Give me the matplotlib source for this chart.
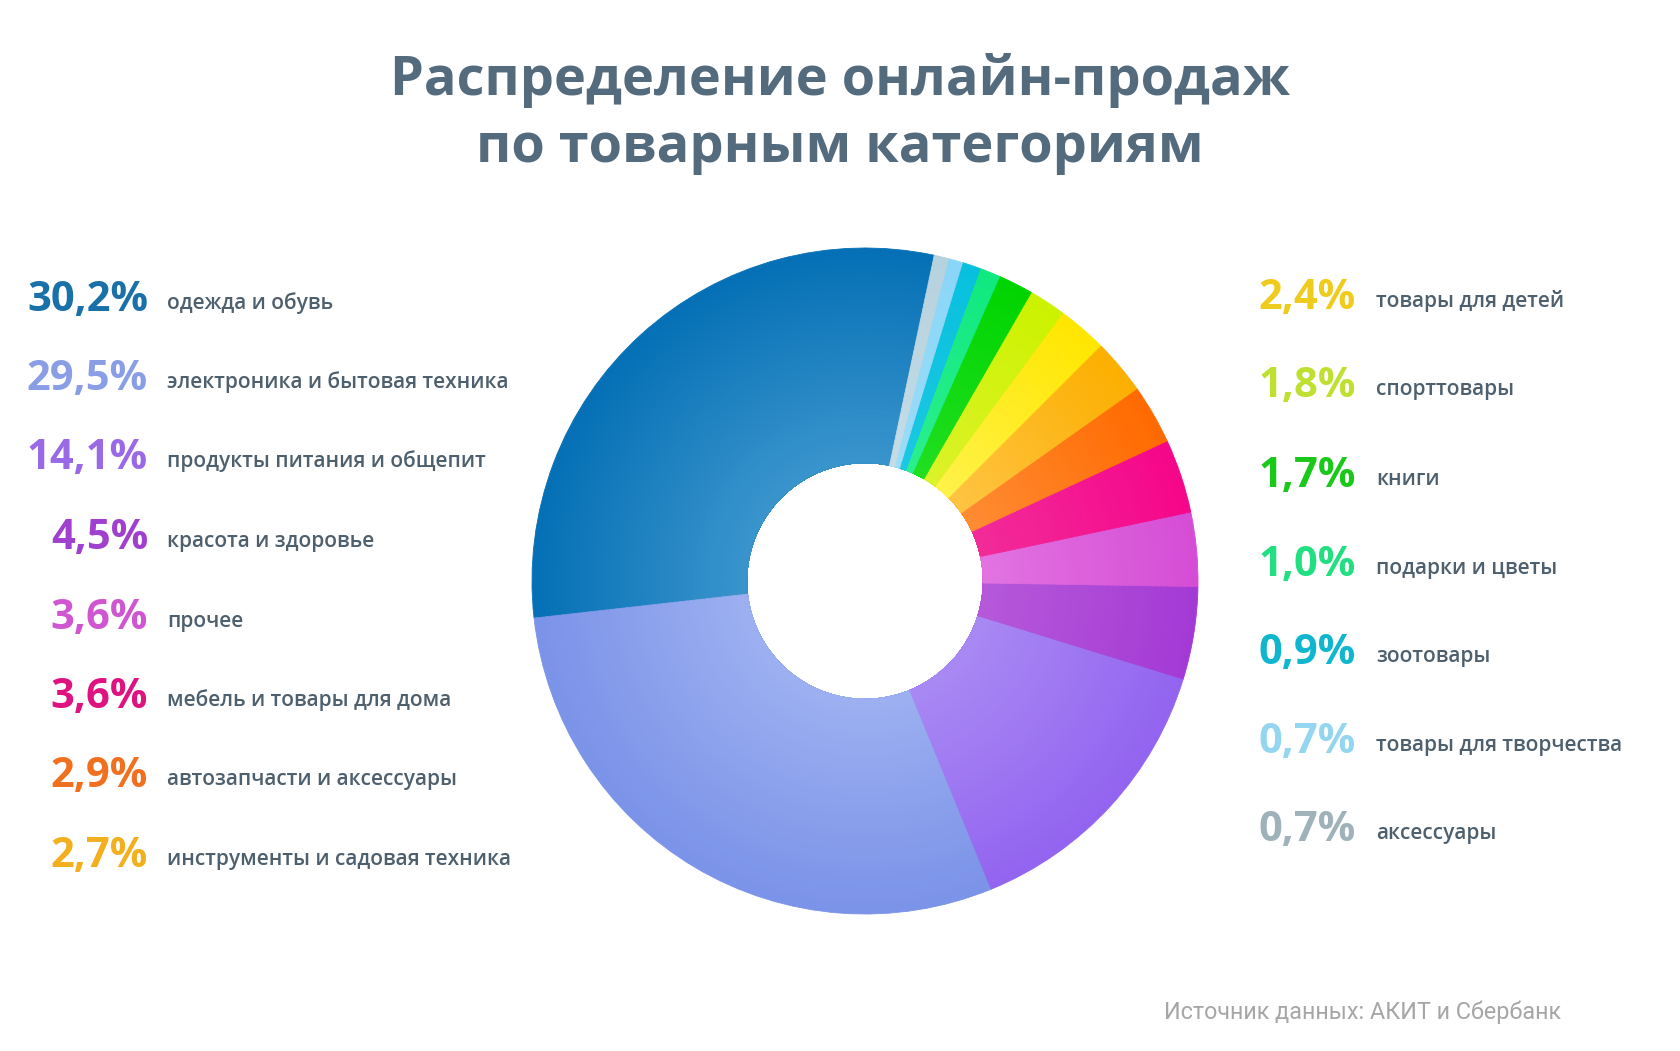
import numpy as np
import matplotlib
matplotlib.use('agg')
from matplotlib import pyplot as plt
from matplotlib.colors import to_rgb

plt.rcParams['font.family'] = ['Open Sans', 'DejaVu Sans']

# pie order, counterclockwise from the top
labels = ['одежда и обувь', 'электроника и бытовая техника', 'продукты питания и общепит',
          'красота и здоровье', 'прочее', 'мебель и товары для дома',
          'автозапчасти и аксессуары', 'инструменты и садовая техника',
          'товары для детей', 'спорттовары', 'книги', 'подарки и цветы',
          'зоотовары', 'товары для творчества', 'аксессуары']
shares = [30.2, 29.5, 14.1, 4.5, 3.6, 3.6, 2.9, 2.7, 2.4, 1.8, 1.7, 1.0, 0.9, 0.7, 0.7]
share_text = ['30,2%', '29,5%', '14,1%', '4,5%', '3,6%', '3,6%', '2,9%', '2,7%',
              '2,4%', '1,8%', '1,7%', '1,0%', '0,9%', '0,7%', '0,7%']

inner_cols = ['#3b95cd', '#9db0f1', '#a98af3', '#b659d9', '#e274e1', '#f22c99', '#ff8c34',
              '#ffc444', '#fff24a', '#dcf22a', '#22de22', '#2cef8e', '#1cc8e2', '#9cdcf8', '#c4dce6']
outer_cols = ['#0570b5', '#7b93e8', '#9364f0', '#a43ad5', '#d54dd5', '#f5068a', '#ff6a00',
              '#fbaf00', '#ffe600', '#ccf200', '#00d400', '#10e880', '#08c0de', '#8ad6f8', '#b6d2de']
text_cols = ['#1a70a8', '#8a9ee6', '#9a6ae6', '#a040cf', '#d055d0', '#df137f', '#f0701f',
             '#f3b01e', '#efcb1e', '#bfe030', '#1ac81a', '#22df82', '#10b6ce', '#94d6f0', '#9fb2ba']

W, H = 1680, 1051
fig = plt.figure(figsize=(W / 100, H / 100), dpi=100)
fig.patch.set_facecolor('white')

# donut: centre (865, 581) px, outer radius 333 px
cx, cy, R = 865, 581, 333
ax = fig.add_axes([(cx - R) / W, (H - cy - R) / H, 2 * R / W, 2 * R / H])
r_in = 0.355
n_rings = 40
for k in range(n_rings):
    r = 1.0 - k * (1.0 - r_in) / n_rings
    t = (r - r_in) / (1.0 - r_in)
    cols = [tuple(np.array(to_rgb(a)) * (1 - t) + np.array(to_rgb(b)) * t)
            for a, b in zip(inner_cols, outer_cols)]
    ax.pie(shares, radius=r, startangle=78, counterclock=True, colors=cols,
           wedgeprops=dict(width=r - r_in, linewidth=0.6, antialiased=True))
    for w, c in zip(ax.patches[-len(shares):], cols):
        w.set_edgecolor(c)
ax.set_xlim(-1, 1)
ax.set_ylim(-1, 1)
ax.set_aspect('equal')
ax.axis('off')

# overlay axes in pixel coordinates for text
tx = fig.add_axes([0, 0, 1, 1])
tx.set_xlim(0, W)
tx.set_ylim(H, 0)
tx.axis('off')
tx.patch.set_alpha(0)

title_col = '#546b7d'
label_col = '#4e5f6d'
tx.text(840, 80, 'Распределение онлайн-продаж', ha='center', va='center',
        fontsize=39, fontweight='bold', color=title_col)
tx.text(840, 148, 'по товарным категориям', ha='center', va='center',
        fontsize=39, fontweight='bold', color=title_col)

left_y = [311, 390, 469, 549, 629, 708, 787, 867]
right_y = [309, 397, 487, 576, 664, 753, 841]
for i in range(8):
    tx.text(148, left_y[i], share_text[i], ha='right', va='baseline', fontsize=30,
            fontweight='bold', color=text_cols[i])
    tx.text(167, left_y[i] - 2, labels[i], ha='left', va='baseline', fontsize=15,
            fontweight='semibold', color=label_col)
for j in range(7):
    i = 8 + j
    tx.text(1356, right_y[j], share_text[i], ha='right', va='baseline', fontsize=30,
            fontweight='bold', color=text_cols[i])
    tx.text(1376, right_y[j] - 2, labels[i], ha='left', va='baseline', fontsize=15,
            fontweight='semibold', color=label_col)

tx.text(1561, 1012, 'Источник данных: АКИТ и Сбербанк', ha='right', va='center',
        fontsize=16.8, color='#a6a6a6', family=['Roboto', 'DejaVu Sans'])

fig.savefig('out.png', dpi=100, facecolor='white')
